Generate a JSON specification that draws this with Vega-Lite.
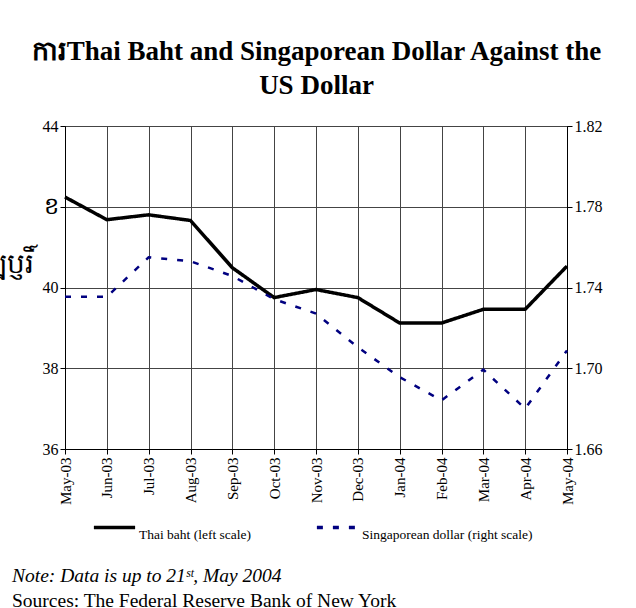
{
  "$schema": "https://vega.github.io/schema/vega-lite/v6.json",
  "width": 502,
  "height": 323,
  "autosize": {"type": "none"},
  "padding": {"left": 65, "top": 126, "right": 69, "bottom": 159},
  "background": "white",
  "config": {
    "font": "Liberation Serif",
    "view": {"stroke": "black", "strokeWidth": 1},
    "axis": {
      "labelFont": "Liberation Serif",
      "labelColor": "black",
      "tickColor": "black",
      "domainColor": "black",
      "gridColor": "#444444",
      "gridOpacity": 1,
      "gridWidth": 1,
      "tickSize": 5,
      "labelFontSize": 16,
      "titleColor": "black",
      "titleFont": "Liberation Serif"
    }
  },
  "title": {
    "text": "Note: Data is up to 21ˢᵗ, May 2004",
    "subtitle": "Sources: The Federal Reserve Bank of New York",
    "orient": "bottom",
    "anchor": "start",
    "frame": "group",
    "font": "Liberation Serif",
    "fontStyle": "italic",
    "fontWeight": "normal",
    "fontSize": 19.5,
    "color": "black",
    "subtitleFont": "Liberation Serif",
    "subtitleFontSize": 19.5,
    "subtitleColor": "black",
    "subtitlePadding": 5,
    "offset": 26,
    "dx": -53
  },
  "data": {
    "values": [
      {"month": "May-03", "series": "Thai baht (left scale)", "value": 42.24},
      {"month": "Jun-03", "series": "Thai baht (left scale)", "value": 41.68},
      {"month": "Jul-03", "series": "Thai baht (left scale)", "value": 41.8},
      {"month": "Aug-03", "series": "Thai baht (left scale)", "value": 41.66},
      {"month": "Sep-03", "series": "Thai baht (left scale)", "value": 40.49},
      {"month": "Oct-03", "series": "Thai baht (left scale)", "value": 39.75},
      {"month": "Nov-03", "series": "Thai baht (left scale)", "value": 39.95},
      {"month": "Dec-03", "series": "Thai baht (left scale)", "value": 39.75},
      {"month": "Jan-04", "series": "Thai baht (left scale)", "value": 39.12},
      {"month": "Feb-04", "series": "Thai baht (left scale)", "value": 39.12},
      {"month": "Mar-04", "series": "Thai baht (left scale)", "value": 39.46},
      {"month": "Apr-04", "series": "Thai baht (left scale)", "value": 39.46},
      {"month": "May-04", "series": "Thai baht (left scale)", "value": 40.53},
      {"month": "May-03", "series": "Singaporean dollar (right scale)", "value": 1.7354},
      {"month": "Jun-03", "series": "Singaporean dollar (right scale)", "value": 1.7354},
      {"month": "Jul-03", "series": "Singaporean dollar (right scale)", "value": 1.755},
      {"month": "Aug-03", "series": "Singaporean dollar (right scale)", "value": 1.753},
      {"month": "Sep-03", "series": "Singaporean dollar (right scale)", "value": 1.7457},
      {"month": "Oct-03", "series": "Singaporean dollar (right scale)", "value": 1.7342},
      {"month": "Nov-03", "series": "Singaporean dollar (right scale)", "value": 1.7271},
      {"month": "Dec-03", "series": "Singaporean dollar (right scale)", "value": 1.7104},
      {"month": "Jan-04", "series": "Singaporean dollar (right scale)", "value": 1.6956},
      {"month": "Feb-04", "series": "Singaporean dollar (right scale)", "value": 1.6841},
      {"month": "Mar-04", "series": "Singaporean dollar (right scale)", "value": 1.6993},
      {"month": "Apr-04", "series": "Singaporean dollar (right scale)", "value": 1.68},
      {"month": "May-04", "series": "Singaporean dollar (right scale)", "value": 1.7088}
    ]
  },
  "layer": [
    {
      "mark": {"type": "rule", "opacity": 0},
      "encoding": {
        "x": {
          "field": "month", "type": "ordinal", "sort": null,
          "scale": {"type": "point", "padding": 0},
          "axis": {
            "orient": "top", "labels": false, "ticks": false, "domain": false, "grid": false,
            "title": ["ការThai Baht and Singaporean Dollar Against the", "US Dollar"],
            "titleFontSize": 27, "titleFontWeight": "bold", "titlePadding": 27, "titleLineHeight": 34
          }
        }
      }
    },
    {
      "transform": [{"filter": "datum.series == 'Thai baht (left scale)'"}],
      "mark": {"type": "line", "strokeWidth": 3.5},
      "encoding": {
        "x": {
          "field": "month", "type": "ordinal", "sort": null,
          "scale": {"type": "point", "padding": 0},
          "axis": {"orient": "bottom", "labelAngle": 270, "labelFontSize": 15, "grid": true, "title": null, "labelPadding": 3}
        },
        "y": {
          "field": "value", "type": "quantitative",
          "scale": {"domain": [36, 44], "nice": false, "zero": false},
          "axis": {
            "orient": "left", "values": [36, 38, 40, 42, 44], "grid": true,
            "labelExpr": "datum.value == 42 ? 'ខ' : datum.label",
            "labelFontSize": {"condition": {"test": "datum.value == 42", "value": 24}, "value": 16},
            "title": "ឡ្កប្ញរិ៍", "titleAngle": 0, "titleAlign": "right", "titleBaseline": "middle",
            "titleX": -32, "titleY": 138, "titleFontSize": 28, "titleFontWeight": "normal"
          }
        },
        "color": {
          "field": "series", "type": "nominal",
          "scale": {"domain": ["Thai baht (left scale)", "Singaporean dollar (right scale)"], "range": ["#000000", "#000080"]},
          "legend": {"title": null, "orient": "none", "legendX": 27, "legendY": 379, "direction": "horizontal", "symbolType": "stroke", "symbolSize": 1700, "symbolStrokeWidth": 3.5, "labelFont": "Liberation Serif", "labelFontSize": 13.5, "labelColor": "black", "labelOffset": 2, "labelBaseline": "top", "labelLimit": 400, "columnPadding": 57}
        },
        "strokeDash": {
          "field": "series", "type": "nominal",
          "scale": {"domain": ["Thai baht (left scale)", "Singaporean dollar (right scale)"], "range": [[1, 0], [6, 10]]},
          "legend": {"title": null, "orient": "none", "legendX": 27, "legendY": 379, "direction": "horizontal", "symbolType": "stroke", "symbolSize": 1700, "symbolStrokeWidth": 3.5, "labelFont": "Liberation Serif", "labelFontSize": 13.5, "labelColor": "black", "labelOffset": 2, "labelBaseline": "top", "labelLimit": 400, "columnPadding": 57}
        }
      }
    },
    {
      "transform": [{"filter": "datum.series == 'Singaporean dollar (right scale)'"}],
      "mark": {"type": "line", "strokeWidth": 2.5},
      "encoding": {
        "x": {
          "field": "month", "type": "ordinal", "sort": null,
          "scale": {"type": "point", "padding": 0},
          "axis": null
        },
        "y": {
          "field": "value", "type": "quantitative",
          "scale": {"domain": [1.66, 1.82], "nice": false, "zero": false},
          "axis": {"orient": "right", "values": [1.66, 1.7, 1.74, 1.78, 1.82], "format": ".2f", "grid": false, "title": null}
        },
        "color": {
          "field": "series", "type": "nominal",
          "scale": {"domain": ["Thai baht (left scale)", "Singaporean dollar (right scale)"], "range": ["#000000", "#000080"]},
          "legend": {"title": null, "orient": "none", "legendX": 27, "legendY": 379, "direction": "horizontal", "symbolType": "stroke", "symbolSize": 1700, "symbolStrokeWidth": 3.5, "labelFont": "Liberation Serif", "labelFontSize": 13.5, "labelColor": "black", "labelOffset": 2, "labelBaseline": "top", "labelLimit": 400, "columnPadding": 57}
        },
        "strokeDash": {
          "field": "series", "type": "nominal",
          "scale": {"domain": ["Thai baht (left scale)", "Singaporean dollar (right scale)"], "range": [[1, 0], [6, 10]]},
          "legend": {"title": null, "orient": "none", "legendX": 27, "legendY": 379, "direction": "horizontal", "symbolType": "stroke", "symbolSize": 1700, "symbolStrokeWidth": 3.5, "labelFont": "Liberation Serif", "labelFontSize": 13.5, "labelColor": "black", "labelOffset": 2, "labelBaseline": "top", "labelLimit": 400, "columnPadding": 57}
        }
      }
    }
  ],
  "resolve": {"scale": {"y": "independent"}}
}
